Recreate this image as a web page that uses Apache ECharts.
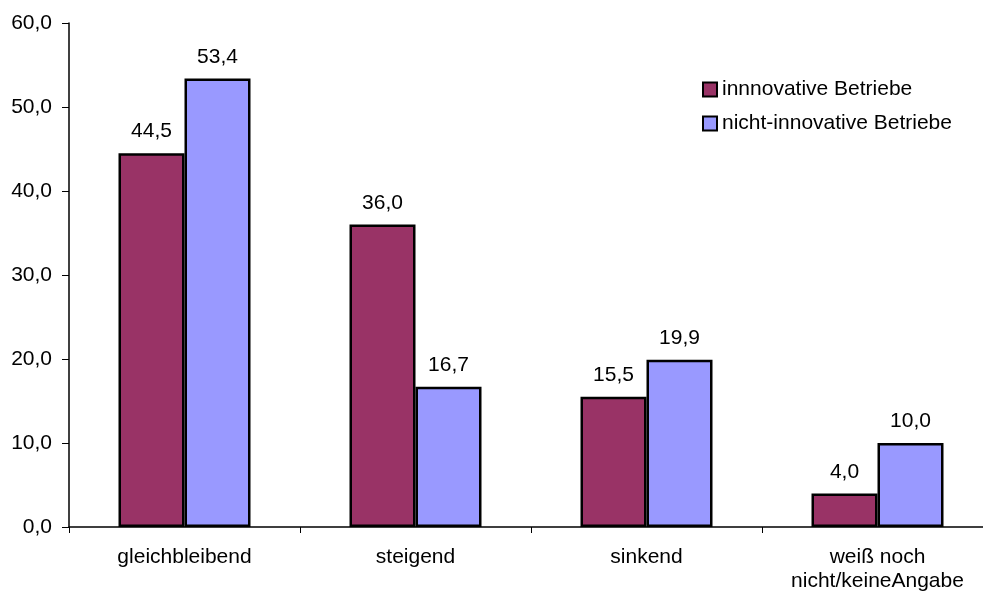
<!DOCTYPE html>
<html><head><meta charset="utf-8">
<script src="https://cdn.jsdelivr.net/npm/echarts@6/dist/echarts.min.js"></script>
<style>html,body{margin:0;padding:0;background:#fff;overflow:hidden}#c{width:993px;height:594px}</style>
</head><body><div id="c"></div>
<script>
const categories = ['gleichbleibend', 'steigend', 'sinkend', 'weiß noch\nnicht/keineAngabe'];
const innovative = [44.5, 36.0, 15.5, 4.0];
const nichtInnovative = [53.4, 16.7, 19.9, 10.0];
const seriesNames = ['innnovative Betriebe', 'nicht-innovative Betriebe'];
const font = 'Liberation Sans, Arial, sans-serif';
const fs = 21;
const fmt = v => v.toFixed(1).replace('.', ',');
const chart = echarts.init(document.getElementById('c'), null, {renderer: 'canvas'});
const mk = (name, data, color) => ({
  name, type: 'bar', data, barGap: '0%', barWidth: 66,
  itemStyle: {color, borderColor: '#000', borderWidth: 2.5},
  label: {show: true, position: 'top', distance: 11, color: '#000', fontFamily: font, fontSize: fs,
    formatter: p => fmt(p.value)},
  emphasis: {disabled: true}
});
chart.setOption({
  animation: false,
  grid: {left: 69, top: 23, bottom: 67, right: 0},
  legend: {
    orient: 'vertical', left: 697, top: 74, itemWidth: 14, itemHeight: 14, itemGap: 13,
    icon: 'rect',
    textStyle: {fontFamily: font, fontSize: fs, color: '#000', lineHeight: 21},
    itemStyle: {borderColor: '#000', borderWidth: 2},
    data: seriesNames
  },
  xAxis: {
    type: 'category', data: categories,
    axisLine: {lineStyle: {color: '#000', width: 1.5}},
    axisTick: {show: true, length: 6, lineStyle: {color: '#000'}},
    axisLabel: {fontFamily: font, fontSize: fs, color: '#000', margin: 18, lineHeight: 24}
  },
  yAxis: {
    type: 'value', min: 0, max: 60, interval: 10,
    splitLine: {show: false},
    axisLine: {show: true, lineStyle: {color: '#000', width: 1.5}},
    axisTick: {show: true, length: 7, lineStyle: {color: '#000'}},
    axisLabel: {fontFamily: font, fontSize: fs, color: '#000', margin: 17, formatter: v => fmt(v)}
  },
  series: [mk(seriesNames[0], innovative, '#993366'), mk(seriesNames[1], nichtInnovative, '#9999FF')]
});
</script></body></html>
